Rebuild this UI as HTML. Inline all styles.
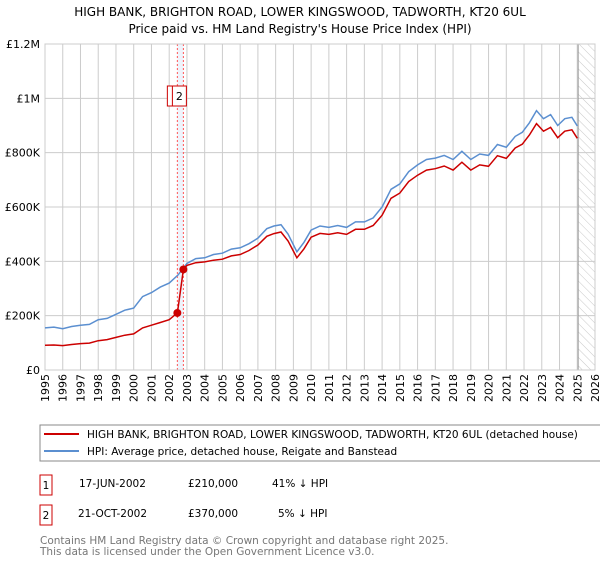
<!DOCTYPE html>
<html><head><meta charset="utf-8">
<style>
body{margin:0;background:#fff;font-family:"DejaVu Sans","Liberation Sans",sans-serif;}
svg text{font-family:"DejaVu Sans","Liberation Sans",sans-serif;}
</style></head>
<body>
<svg id="chart" width="600" height="560" viewBox="0 0 600 560" xmlns="http://www.w3.org/2000/svg">
<defs>
<pattern id="hatch" width="6" height="6" patternUnits="userSpaceOnUse" patternTransform="rotate(-45)">
<line x1="0" y1="0" x2="0" y2="6" stroke="#bbb" stroke-width="0.8"/>
</pattern>
</defs>
<text x="300" y="16" text-anchor="middle" font-size="12" fill="#000">HIGH BANK, BRIGHTON ROAD, LOWER KINGSWOOD, TADWORTH, KT20 6UL</text>
<text x="300" y="33" text-anchor="middle" font-size="12" fill="#000">Price paid vs. HM Land Registry's House Price Index (HPI)</text>
<g id="grid"></g>
<g id="marks"></g>
<g id="axes"></g>
<rect x="40" y="425" width="562" height="36" fill="#fff" stroke="#888"/>
<line x1="44" y1="434" x2="79" y2="434" stroke="#cc0000" stroke-width="2"/>
<text x="87" y="438" font-size="10.5">HIGH BANK, BRIGHTON ROAD, LOWER KINGSWOOD, TADWORTH, KT20 6UL (detached house)</text>
<line x1="44" y1="451" x2="79" y2="451" stroke="#5b8fd0" stroke-width="2"/>
<text x="87" y="455" font-size="10.5">HPI: Average price, detached house, Reigate and Banstead</text>
<g>
<rect x="40" y="475" width="12" height="20" fill="#fff" stroke="#cc0000"/>
<text x="46" y="489" text-anchor="middle" font-size="10.5">1</text>
<text x="79" y="487" font-size="10.5">17-JUN-2002</text>
<text x="188" y="487" font-size="10.5">£210,000</text>
<text x="272" y="487" font-size="10.5">41% ↓ HPI</text>
</g>
<g>
<rect x="40" y="505" width="12" height="20" fill="#fff" stroke="#cc0000"/>
<text x="46" y="519" text-anchor="middle" font-size="10.5">2</text>
<text x="78" y="517" font-size="10.5">21-OCT-2002</text>
<text x="188" y="517" font-size="10.5">£370,000</text>
<text x="278" y="517" font-size="10.5">5% ↓ HPI</text>
</g>
<text x="40" y="544" font-size="10.5" fill="#777">Contains HM Land Registry data © Crown copyright and database right 2025.</text>
<text x="40" y="555" font-size="10.5" fill="#777">This data is licensed under the Open Government Licence v3.0.</text>
</svg>
<script>
const yearTicks=[1995,1996,1997,1998,1999,2000,2001,2002,2003,2004,2005,2006,2007,2008,2009,2010,2011,2012,2013,2014,2015,2016,2017,2018,2019,2020,2021,2022,2023,2024,2025,2026];
const priceTicks=[0,200000,400000,600000,800000,1000000,1200000];
const priceTickLabels=["£0","£200K","£400K","£600K","£800K","£1M","£1.2M"];
const hpiYears=[1995,1995.5,1996,1996.5,1997,1997.5,1998,1998.5,1999,1999.5,2000,2000.5,2001,2001.5,2002,2002.5,2003,2003.5,2004,2004.5,2005,2005.5,2006,2006.5,2007,2007.5,2007.9,2008.3,2008.7,2009.2,2009.6,2010,2010.5,2011,2011.5,2012,2012.5,2013,2013.5,2014,2014.5,2015,2015.5,2016,2016.5,2017,2017.5,2018,2018.5,2019,2019.5,2020,2020.5,2021,2021.5,2021.9,2022.3,2022.7,2023.1,2023.5,2023.9,2024.3,2024.7,2025];
const hpiValues=[155000,158000,152000,160000,165000,168000,185000,190000,205000,220000,228000,270000,285000,305000,320000,350000,392000,410000,413000,425000,430000,445000,450000,465000,485000,520000,530000,535000,500000,435000,470000,515000,530000,525000,532000,525000,545000,545000,560000,600000,665000,685000,730000,755000,775000,780000,790000,775000,805000,775000,795000,790000,830000,820000,860000,875000,910000,955000,925000,940000,900000,925000,930000,898000];
const paidYears=[1995,1995.5,1996,1996.5,1997,1997.5,1998,1998.5,1999,1999.5,2000,2000.5,2001,2001.5,2002,2002.46,2002.8,2003,2003.5,2004,2004.5,2005,2005.5,2006,2006.5,2007,2007.5,2007.9,2008.3,2008.7,2009.2,2009.6,2010,2010.5,2011,2011.5,2012,2012.5,2013,2013.5,2014,2014.5,2015,2015.5,2016,2016.5,2017,2017.5,2018,2018.5,2019,2019.5,2020,2020.5,2021,2021.5,2021.9,2022.3,2022.7,2023.1,2023.5,2023.9,2024.3,2024.7,2025];
const paidValues=[91000,92000,90000,94000,97000,99000,108000,112000,120000,128000,133000,155000,165000,175000,185000,210000,370000,385000,395000,398000,404000,408000,420000,425000,440000,460000,492000,502000,508000,475000,413000,446000,489000,503000,499000,505000,499000,518000,518000,532000,570000,632000,651000,694000,717000,736000,741000,751000,736000,765000,736000,755000,750000,789000,779000,817000,831000,865000,907000,879000,893000,855000,879000,884000,853000];
const saleYears=[2002.46,2002.8];
const saleValues=[210000,370000];
const saleLabels=["1","2"];

const NS="http://www.w3.org/2000/svg";
const L=45,R=595,T=44,B=370;
const x=yr=>L+(yr-1995)*(R-L)/31;
const y=v=>B-v*(B-T)/1200000;
function mk(tag,attrs,parent){const e=document.createElementNS(NS,tag);for(const k in attrs)e.setAttribute(k,attrs[k]);parent.appendChild(e);return e;}
const grid=document.getElementById('grid'),marks=document.getElementById('marks'),axes=document.getElementById('axes');

let hz=mk('rect',{x:x(2025.05),y:T,width:R-x(2025.05),height:B-T,fill:'url(#hatch)'},grid);



yearTicks.forEach(yr=>{
  const l=mk('line',{x1:x(yr),x2:x(yr),y1:T,y2:B,stroke:'#ccc','stroke-width':1},grid);
  
  
  const tx=x(yr)+4,ty=B+4;
  const t=mk('text',{x:tx,y:ty,'text-anchor':'end','font-size':11,transform:'rotate(-90 '+tx+' '+ty+')'},axes);
  t.textContent=yr;
  
  
});
priceTicks.forEach((v,i)=>{
  const l=mk('line',{x1:L,x2:R,y1:y(v),y2:y(v),stroke:'#ccc','stroke-width':1},grid);
  
  
  const t=mk('text',{x:L-5,y:y(v)+4,'text-anchor':'end','font-size':11},axes);
  t.textContent=priceTickLabels[i];
  
  
});
let vl=mk('line',{x1:x(2025.05),x2:x(2025.05),y1:T,y2:B,stroke:'#999','stroke-width':1},grid);



let band=mk('rect',{x:x(saleYears[0]),y:T,width:x(saleYears[1])-x(saleYears[0]),height:B-T,fill:'#e8eefa',opacity:0.7},grid);


saleYears.forEach((yr,i)=>{
  const l=mk('line',{x1:x(yr),x2:x(yr),y1:T,y2:B,stroke:'#f55','stroke-width':1,'stroke-dasharray':'2,2'},grid);
  
  
});
let fr=mk('rect',{x:L,y:T,width:R-L,height:B-T,fill:'none',stroke:'#ccc'},grid);



function pts(xs,vs){return xs.map((yr,i)=>x(yr).toFixed(1)+','+y(vs[i]).toFixed(1)).join(' ');}
let hp=mk('polyline',{points:pts(hpiYears,hpiValues),fill:'none',stroke:'#5b8fd0','stroke-width':1.5},marks);


let pp=mk('polyline',{points:pts(paidYears,paidValues),fill:'none',stroke:'#cc0000','stroke-width':1.5},marks);


saleYears.forEach((yr,i)=>{
  const c=mk('circle',{cx:x(yr),cy:y(saleValues[i]),r:4,fill:'#cc0000'},marks);
  
  
});
saleYears.forEach((yr,i)=>{
  const bx=i===0?x(yr)-10:x(yr)-11;
  const r=mk('rect',{x:bx,y:86,width:14,height:20,fill:'#fff',stroke:'#cc0000'},marks);
  
  
  const t=mk('text',{x:bx+7,y:100,'text-anchor':'middle','font-size':11},marks);
  t.textContent=saleLabels[i];
  
  
});
</script>
</body></html>
